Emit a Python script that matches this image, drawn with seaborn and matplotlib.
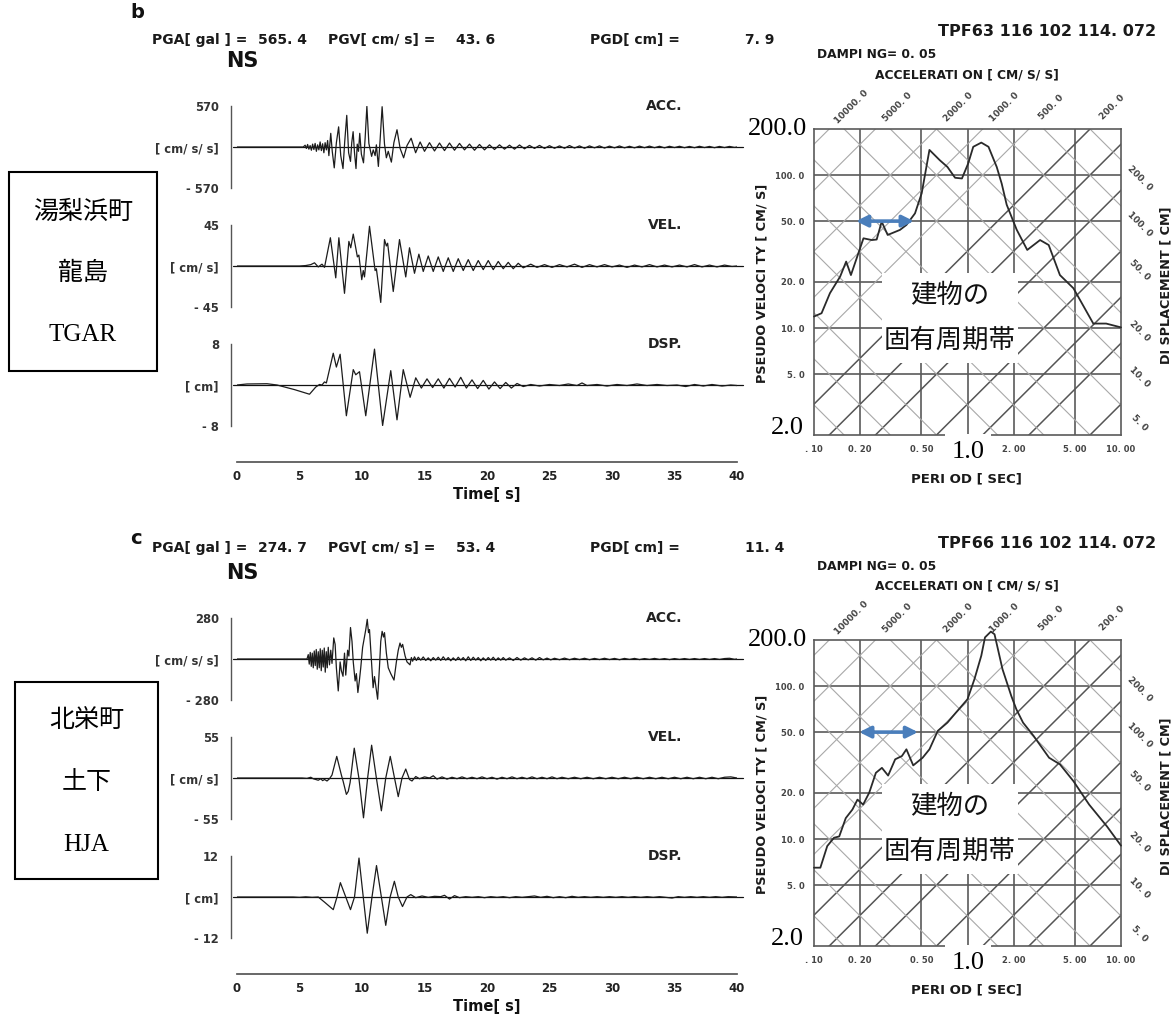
import numpy as np
import pandas as pd
import matplotlib
matplotlib.use("Agg")
import matplotlib.pyplot as plt
from matplotlib.patches import Rectangle
import seaborn as sns

sns.set_theme(style="white")
plt.rcParams['font.family'] = ['DejaVu Sans', 'Noto Sans CJK JP']

# ---------------------------------------------------------------- data
# station b (湯梨浜町 龍島 TGAR): turning points (time s, value)
ACC_B = [(0, 0), (5.3, 0), (5.45, 25), (5.55, -20), (5.65, 35), (5.75, -30), (5.85, 20), (5.95, -45),
         (6.05, 40), (6.15, -35), (6.25, 50), (6.35, -60), (6.45, 30), (6.55, -40), (6.65, 70), (6.75, -50),
         (6.85, 45), (6.95, -80), (7.05, 60), (7.15, -40), (7.25, 90), (7.35, -120), (7.5, 190), (7.62, -60),
         (7.78, -290), (7.95, 60), (8.13, 280), (8.3, -120), (8.48, -300), (8.62, 80), (8.78, 440), (8.93, -80),
         (9.08, -200), (9.18, 60), (9.29, 213), (9.4, -80), (9.52, -300), (9.62, 40), (9.72, -60), (9.82, 190),
         (9.95, -100), (10.12, -220), (10.25, 120), (10.39, 565), (10.55, 50), (10.77, -130), (10.9, -40),
         (11.05, -120), (11.15, 30), (11.31, -270), (11.45, 100), (11.61, 560), (11.8, 40), (11.95, -150),
         (12.1, -60), (12.35, -210), (12.55, 60), (12.8, 240), (13.05, -20), (13.33, -150), (13.6, 20),
         (13.93, 122), (14.29, -80), (14.65, 70), (15.0, -60), (15.4, 60), (15.8, -55), (16.2, 55), (16.6, -50),
         (17.0, 55), (17.4, -45), (17.8, 50), (18.2, -40), (18.6, 40), (19.0, -45), (19.4, 35), (19.8, -40),
         (20.2, 30), (20.6, -35), (21.0, 30), (21.4, -30), (21.8, 25), (22.2, -30), (22.6, 28), (23.0, -25),
         (23.4, 22), (23.8, -20), (24.2, 22), (24.6, -20), (25.0, 18), (25.4, -18), (25.8, 15), (26.2, -18),
         (26.6, 20), (27.0, -15), (27.4, 15), (27.8, -18), (28.2, 15), (28.6, -12), (29.0, 15), (29.4, -15),
         (29.8, 12), (30.2, -12), (30.6, 14), (31.0, -12), (31.4, 10), (31.8, -12), (32.2, 12), (32.6, -10),
         (33.0, 12), (33.4, -10), (33.8, 10), (34.2, -12), (34.6, 10), (35.0, -8), (35.4, 10), (35.8, -10),
         (36.2, 8), (36.6, -10), (37.0, 10), (37.4, -8), (37.8, 8), (38.2, -10), (38.6, 8), (39.0, -8),
         (39.4, 8), (39.8, -6), (40, 0)]

VEL_B = [(0, 0), (5.0, 0), (5.5, 0.5), (5.9, 1.5), (6.2, 3.5), (6.5, -1), (6.8, 2), (7.0, -1.5), (7.47, 31),
         (7.9, -13), (8.15, 31), (8.6, -30), (8.95, 27), (9.1, 20), (9.3, 35), (9.63, 10), (9.75, 12),
         (9.98, -15), (10.1, -5), (10.2, -12), (10.6, 43.6), (11.05, -5), (11.15, -3), (11.5, -40), (11.8, 29),
         (11.95, 22), (12.05, 25), (12.5, -28), (13.0, 29), (13.5, -12), (13.8, 20), (14.2, -8), (14.55, 13),
         (14.9, -6), (15.3, 11), (15.7, -6), (16.1, 10), (16.5, -6), (16.9, 9), (17.3, -6), (17.7, 8), (18.1, -5),
         (18.5, 7), (18.9, -5), (19.3, 6), (19.7, -4), (20.1, 6), (20.5, -4), (20.9, 5), (21.3, -3), (21.7, 4),
         (22.1, -3), (22.5, 3), (22.9, -2), (23.5, 2), (24.0, -1.5), (24.6, 1.5), (25.2, -1.5), (25.8, 1.5),
         (26.4, -1), (27.0, 2), (27.6, -1.5), (28.2, 1.5), (28.8, -1), (29.4, 1.5), (30.0, -1), (30.6, 1),
         (31.2, -1.5), (31.8, 1), (32.4, -1), (33.0, 1.5), (33.6, -1), (34.2, 1), (34.8, -1), (35.4, 1),
         (36.0, -1), (36.6, 1.5), (37.2, -1), (37.8, 1), (38.4, -1), (39.0, 1), (39.6, -0.5), (40, 0)]

DSP_B = [(0, 0), (0.8, 0.2), (2.4, 0.25), (3.2, 0.0), (4.6, -0.9), (5.8, -1.8), (6.3, -0.4), (6.6, 0.1),
         (6.8, 0.0), (7.0, 0.6), (7.15, 0.4), (7.7, 6.2), (7.95, 3.5), (8.25, 6.0), (8.75, -6.0), (9.3, 3.0),
         (9.5, 2.0), (9.8, 2.6), (10.3, -6.0), (11.0, 7.0), (11.65, -7.9), (12.3, 2.8), (12.8, -6.8),
         (13.3, 3.0), (13.85, -2.4), (14.3, 1.4), (14.75, -0.6), (15.2, 1.2), (15.65, -0.5), (16.1, 1.2),
         (16.55, -0.6), (17.0, 1.3), (17.45, -0.4), (17.9, 1.5), (18.35, -0.6), (18.8, 1.0), (19.25, -0.7),
         (19.7, 0.9), (20.15, -0.8), (20.6, 0.6), (21.05, -0.7), (21.5, 0.5), (21.95, -0.6), (22.4, 0.3),
         (22.9, -0.3), (23.5, 0.1), (24.2, -0.2), (25.0, 0.1), (25.8, -0.1), (26.5, 0.2), (27.2, -0.1),
         (27.6, 0.4), (28.0, -0.1), (28.8, 0.1), (29.6, -0.2), (30.4, 0.1), (31.2, -0.1), (32.0, 0.2),
         (32.8, -0.1), (33.6, 0.1), (34.4, -0.1), (35.2, 0.0), (35.9, -0.3), (36.6, 0.1), (37.3, -0.2),
         (38.0, 0.1), (38.8, -0.2), (39.5, 0.0), (40, -0.1)]

# station c (北栄町 土下 HJA)
ACC_C = [(0, 0), (5.6, 0), (5.7, 30), (5.78, -35), (5.86, 45), (5.94, -50), (6.02, 40), (6.1, -60), (6.18, 55),
         (6.26, -45), (6.34, 65), (6.42, -70), (6.5, 50), (6.58, -60), (6.66, 70), (6.74, -80), (6.82, 60),
         (6.9, -55), (6.98, 75), (7.06, -90), (7.14, 50), (7.22, -60), (7.3, 80), (7.4, -40), (7.5, 60),
         (7.6, -30), (7.74, 144), (7.85, 100), (7.95, -60), (8.1, -218), (8.25, -20), (8.35, -80), (8.48, -118),
         (8.6, 40), (8.7, -110), (8.85, 60), (8.95, 20), (9.08, 215), (9.2, 120), (9.3, -20), (9.45, -150),
         (9.55, -100), (9.67, -229), (9.8, -140), (9.9, -60), (10.05, 80), (10.2, 150), (10.3, 200),
         (10.42, 271), (10.52, 180), (10.6, 200), (10.75, 0), (10.89, -196), (11.0, -120), (11.1, -180),
         (11.25, -274.7), (11.4, -50), (11.5, 120), (11.61, 189), (11.72, 150), (11.8, 180), (11.95, 40),
         (12.1, -60), (12.3, -100), (12.56, -144), (12.75, -20), (12.9, 60), (13.04, 109), (13.15, 80),
         (13.25, 100), (13.45, 20), (13.6, -20), (13.84, -40), (13.95, 10), (14.05, -15), (14.2, 15),
         (14.35, -10), (14.5, 12), (14.7, -8), (14.9, 14), (15.1, -10), (15.3, 8), (15.5, -12), (15.7, 10),
         (15.9, -8), (16.1, 12), (16.3, -10), (16.5, 15), (16.7, -8), (16.9, 10), (17.1, -12), (17.3, 8),
         (17.5, -10), (17.7, 12), (17.9, -8), (18.1, 10), (18.3, -12), (18.5, 15), (18.7, -10), (18.9, 12),
         (19.1, -8), (19.3, 10), (19.5, -12), (19.7, 8), (19.9, -10), (20.1, 10), (20.3, -8), (20.5, 12),
         (20.7, -10), (20.9, 8), (21.1, -8), (21.3, 10), (21.5, -8), (21.8, 8), (22.1, -10), (22.4, 10),
         (22.7, -8), (23.0, 8), (23.3, -6), (23.6, 8), (23.9, -8), (24.2, 10), (24.5, -6), (24.8, 6),
         (25.1, -6), (25.4, 5), (25.8, -5), (26.2, 6), (26.6, -5), (27.0, 5), (27.4, -4), (27.8, 5), (28.2, -5),
         (28.6, 4), (29.0, -4), (29.4, 5), (29.8, -4), (30.2, 4), (30.6, -5), (31.0, 4), (31.4, -3), (31.8, 4),
         (32.2, -4), (32.6, 3), (33.0, -3), (33.4, 4), (33.8, -3), (34.2, 3), (34.6, -4), (35.0, 3), (35.4, -3),
         (35.8, 3), (36.2, -3), (36.6, 3), (37.0, -3), (37.4, 3), (37.8, -3), (38.2, 3), (38.6, -3), (39.0, 3),
         (39.4, 5), (39.8, -2), (40, 0)]

VEL_C = [(0, 0), (5.2, 0), (5.6, -0.5), (5.9, 1), (6.1, -1), (6.3, -2), (6.5, -3), (6.7, -1), (6.85, -3.5),
         (7.0, -2), (7.2, -4), (7.4, -1), (7.6, 4), (7.98, 29), (8.35, 4), (8.5, -5), (8.75, -22), (8.9, -18),
         (9.05, -6), (9.38, 40), (9.75, 0), (10.12, -53.4), (10.45, 0), (10.77, 44), (11.15, 0), (11.55, -44),
         (11.9, 0), (12.26, 29), (12.6, 0), (12.9, -25), (13.2, 0), (13.5, 12), (13.8, -2), (14.0, -4),
         (14.3, 2), (14.6, -1), (15.0, 1.5), (15.4, 0), (15.7, 3), (16.0, -1.5), (16.4, 1.5), (16.8, -1.5),
         (17.2, 1), (17.6, -1), (18.0, 1.5), (18.4, -1), (18.8, 1), (19.2, -1), (19.6, 1.5), (20.0, -1),
         (20.4, 1), (20.8, -1.5), (21.2, 1), (21.6, -1), (22.0, 1.5), (22.4, -1), (22.8, 1), (23.2, -1),
         (23.6, 1.5), (24.0, -1), (24.4, 1), (24.8, -1), (25.2, 1.5), (25.6, -1), (26.0, 1), (26.5, -1),
         (27.0, 1), (27.5, -1), (28.0, 1), (28.5, -1), (29.0, 1), (29.5, -1), (30.0, 1), (30.5, -1), (31.0, 1),
         (31.5, -1), (32.0, 1), (32.5, -1), (33.0, 1), (33.5, -1), (34.0, 1), (34.5, -1), (35.0, 1), (35.5, -1),
         (36.0, 1), (36.5, -1), (37.0, 1), (37.5, -1), (38.0, 1), (38.5, -1), (39.0, 1), (39.5, 1.5), (40, 0)]

DSP_C = [(0, 0), (4.5, 0), (5.0, -0.1), (5.5, 0.05), (6.0, -0.1), (6.5, 0), (7.0, -1.5), (7.7, -3.7), (8.0, 0),
         (8.27, 4.2), (8.7, 0), (9.08, -3.7), (9.4, 0), (9.76, 11.4), (10.1, 0), (10.42, -10.6), (10.8, 0),
         (11.16, 9.2), (11.55, 0), (11.9, -8.3), (12.25, 0), (12.59, 4.6), (12.9, 0), (13.24, -2.8), (13.6, 0),
         (13.9, 0.7), (14.3, -0.2), (14.8, 0.3), (15.3, -0.1), (15.8, 0.2), (16.3, 0.1), (16.6, 0.5),
         (17.0, -0.6), (17.4, 0.4), (17.8, -0.2), (18.3, 0.1), (18.8, -0.1), (19.3, 0.1), (19.8, -0.2),
         (20.3, 0.1), (20.8, -0.1), (21.3, 0.1), (21.8, -0.2), (22.3, 0.1), (22.8, -0.1), (23.3, 0.1),
         (23.8, 0.3), (24.3, -0.1), (24.8, 0.2), (25.3, -0.2), (25.8, 0.1), (26.3, -0.2), (26.8, 0.2),
         (27.3, -0.1), (27.8, 0.1), (28.3, -0.1), (28.8, 0.1), (29.3, -0.1), (29.8, 0.1), (30.3, -0.1),
         (30.8, 0.1), (31.3, -0.1), (31.8, 0.1), (32.3, -0.1), (32.8, 0.1), (33.3, -0.1), (33.8, 0.1),
         (34.3, -0.1), (34.8, -0.3), (35.3, 0.1), (35.8, -0.1), (36.3, 0.1), (36.8, -0.1), (37.3, 0.1),
         (37.8, -0.1), (38.3, 0.1), (38.8, -0.1), (39.3, 0.1), (40, 0)]

# pseudo-velocity response spectra (h = 0.05)
SPEC_B_T = [0.1, 0.112, 0.127, 0.148, 0.162, 0.174, 0.21, 0.238, 0.256, 0.276, 0.302, 0.363, 0.40, 0.455,
            0.503, 0.565, 0.66, 0.74, 0.83, 0.92, 1.01, 1.09, 1.23, 1.37, 1.55, 1.67, 1.80, 2.09, 2.45, 2.97,
            3.38, 4.0, 4.9, 6.6, 8.0, 10.0]
SPEC_B_V = [11.9, 12.5, 16.9, 21.7, 27.2, 22.2, 38.6, 37.6, 37.9, 49.6, 40.6, 43.8, 47.2, 56.2, 76.0, 146,
            125, 113, 96, 95, 119, 153, 163, 153, 113, 88, 64, 44, 32.4, 37.6, 34.9, 22.2, 18.2, 10.7, 10.7,
            10.1]
SPEC_C_T = [0.1, 0.11, 0.122, 0.135, 0.146, 0.161, 0.178, 0.192, 0.209, 0.229, 0.253, 0.277, 0.304, 0.338,
            0.374, 0.40, 0.443, 0.51, 0.565, 0.64, 0.74, 0.84, 1.0, 1.11, 1.23, 1.3, 1.42, 1.5, 1.69, 1.93, 2.08,
            2.3, 2.7, 3.4, 4.0, 4.9, 6.2, 8.1, 10.0]
SPEC_C_V = [6.5, 6.5, 9.0, 10.2, 10.4, 13.7, 15.6, 18.1, 16.8, 20.1, 27.1, 29.2, 26.0, 33.2, 34.9, 38.6, 30.3,
            34.0, 38.6, 50.9, 57.7, 67, 82, 111, 158, 208, 227, 218, 129, 86, 70.6, 57.7, 47.1, 34, 30.8, 23.9,
            16.8, 12.1, 9.06]

# tripartite scale values
SA_LINES = [2, 5, 10, 20, 50, 100, 200, 500, 1000, 2000, 5000, 10000]
SA_LABELS = [10000, 5000, 2000, 1000, 500, 200]
SD_LINES = [0.05, 0.1, 0.2, 0.5, 1, 2, 5, 10, 20, 50, 100, 200]
SD_LABELS = [200, 100, 50, 20, 10, 5]
PERIOD_TICKS = [0.1, 0.2, 0.5, 2, 5, 10]
PERIOD_TICKLABELS = [". 10", "0. 20", "0. 50", "2. 00", "5. 00", "10. 00"]
VEL_TICKS = [5, 10, 20, 50, 100]
VEL_TICKLABELS = ["5. 0", "10. 0", "20. 0", "50. 0", "100. 0"]
BAND_B = (0.188, 0.447)
BAND_C = (0.197, 0.476)

PEAKS_B = ("565. 4", "43. 6", "7. 9")
PEAKS_C = ("274. 7", "53. 4", "11. 4")
SCALES_B = (570, 45, 8)
SCALES_C = (280, 55, 12)
STATION_B = ["湯梨浜町", "龍島", "TGAR"]
STATION_C = ["北栄町", "土下", "HJA"]
CODE_B = "TPF63 116 102 114. 072"
CODE_C = "TPF66 116 102 114. 072"

# ---------------------------------------------------------------- layout helpers
W, H = 1172, 1017
fig = plt.figure(figsize=(W / 100, H / 100), dpi=100)
fig.patch.set_facecolor("white")


def rect(x0, y0, x1, y1):
    return [x0 / W, 1 - y1 / H, (x1 - x0) / W, (y1 - y0) / H]


def ftext(x, y, s, **kw):
    return fig.text(x / W, 1 - y / H, s, **kw)


BOLD = dict(fontweight="bold", family=["DejaVu Sans"])
SERIF = ["Liberation Serif", "Noto Sans CJK JP"]
T0_X, T40_X = 237, 737
INK = "#1a1a1a"


def trace(y_top, y_bot, pts, amp, unit, name):
    ax = fig.add_axes(rect(T0_X, y_top, T40_X, y_bot))
    ax.patch.set_alpha(0)
    df = pd.DataFrame(pts, columns=["t", "v"])
    ax.plot([-0.35, 40.5], [0, 0], color="#111111", lw=0.9, clip_on=False)
    sns.lineplot(data=df, x="t", y="v", ax=ax, color="#1c1c1c", lw=0.9,
                 sort=False, estimator=None, legend=False)
    ax.set_xlim(0, 40)
    ax.set_ylim(-amp, amp)
    for s in ["top", "right", "bottom"]:
        ax.spines[s].set_visible(False)
    ax.spines["left"].set_position(("outward", 4))
    ax.spines["left"].set_color("#555555")
    ax.spines["left"].set_linewidth(1.0)
    ax.set_yticks([-amp, 0, amp])
    ax.set_yticklabels([f"- {amp}", unit, f"{amp}"])
    ax.tick_params(axis="y", direction="out", length=5, width=1.0, color="#555555",
                   labelsize=8.3, pad=4, labelcolor="#333333")
    for lab in ax.get_yticklabels():
        lab.set_fontweight("bold")
    ax.set_xticks([])
    ax.set_xlabel("")
    ax.set_ylabel("")
    ax.text(0.89, 1.0, name, transform=ax.transAxes, ha="right", va="center",
            fontsize=10, color="#222222", **BOLD)
    return ax


def waveform_panel(off, head_y, letter, letter_xy, peaks, scales, acc, vel, dsp):
    ftext(*letter_xy, letter, fontsize=14, color="#111111", ha="left", va="center", **BOLD)
    kw = dict(fontsize=10, color=INK, va="center", ha="left", **BOLD)
    ftext(152, head_y, "PGA[ gal ] =", **kw)
    ftext(258, head_y, peaks[0], **kw)
    ftext(328, head_y, "PGV[ cm/ s] =", **kw)
    ftext(456, head_y, peaks[1], **kw)
    ftext(590, head_y, "PGD[ cm] =", **kw)
    ftext(745, head_y, peaks[2], **kw)
    ftext(226, 61 + off, "NS", fontsize=15, color="#111111", va="center", ha="left", **BOLD)
    trace(106 + off, 188 + off, acc, scales[0], "[ cm/ s/ s]", "ACC.")
    trace(225 + off, 307 + off, vel, scales[1], "[ cm/ s]", "VEL.")
    trace(344 + off, 426 + off, dsp, scales[2], "[ cm]", "DSP.")
    # time axis
    tax = fig.add_axes(rect(T0_X, 452 + off, T40_X, 462 + off))
    tax.patch.set_alpha(0)
    for s in ["top", "right", "left"]:
        tax.spines[s].set_visible(False)
    tax.spines["bottom"].set_color("#555555")
    tax.set_xlim(0, 40)
    tax.set_ylim(0, 1)
    tax.set_yticks([])
    tax.set_xticks(np.arange(0, 41, 5))
    tax.set_xticklabels([str(v) for v in range(0, 41, 5)])
    tax.tick_params(axis="x", direction="in", length=5, width=1.0, color="#555555",
                    labelsize=8.5, pad=6, labelcolor="#222222")
    for lab in tax.get_xticklabels():
        lab.set_fontweight("bold")
    ftext(487, 495 + off, "Time[ s]", fontsize=10.5, color="#111111", ha="center", va="center", **BOLD)


def spectrum(off, T, V, band, code):
    x0, x1, y0, y1 = 814, 1121, 129 + off, 435 + off
    ax = fig.add_axes(rect(x0, y0, x1, y1))
    ax.set_xscale("log")
    ax.set_yscale("log")
    ax.set_xlim(0.1, 10)
    ax.set_ylim(2, 200)
    ax.patch.set_facecolor("white")
    for t in [0.2, 0.5, 1, 2, 5]:
        ax.axvline(t, color="#5a5a5a", lw=1.2, zorder=1)
    for v in [5, 10, 20, 50, 100]:
        ax.axhline(v, color="#5a5a5a", lw=1.2, zorder=1)
    tt = np.array([0.05, 20.0])
    for sa in SA_LINES:
        dark = sa <= 200
        ax.plot(tt, sa * tt / (2 * np.pi), color="#555555" if dark else "#a8a8a8",
                lw=1.1 if dark else 0.8, zorder=1)
    for sd in SD_LINES:
        ax.plot(tt, 2 * np.pi * sd / tt, color="#a8a8a8", lw=0.8, zorder=1)
    sns.lineplot(x=T, y=V, ax=ax, color="#2a2a2a", lw=1.3, sort=False, estimator=None,
                 legend=False, zorder=3)
    ax.get_lines()[-1].set_clip_on(False)
    for s in ax.spines.values():
        s.set_color("#5a5a5a")
        s.set_linewidth(1.2)
    ax.set_xticks(PERIOD_TICKS)
    ax.set_xticklabels(PERIOD_TICKLABELS)
    ax.set_yticks(VEL_TICKS)
    ax.set_yticklabels(VEL_TICKLABELS)
    ax.minorticks_off()
    ax.tick_params(length=0, labelsize=6, pad=7, labelcolor="#444444")
    for lab in ax.get_xticklabels() + ax.get_yticklabels():
        lab.set_fontweight("bold")
    ax.set_xlabel("")
    ax.set_ylabel("")
    # acceleration and displacement scale labels
    d = 0.144
    for sa in SA_LABELS:
        t_top = 2 * np.pi * 200 / sa
        ax.text(t_top * 10 ** d, 200 * 10 ** d, f"{sa}. 0", rotation=45, ha="center", va="center",
                fontsize=6.5, color="#444444", fontweight="bold", clip_on=False)
    d = 0.12
    for sd in SD_LABELS:
        v_right = 2 * np.pi * sd / 10
        ax.text(10 * 10 ** d, v_right / 10 ** d, f"{sd}. 0", rotation=-45, ha="center", va="center",
                fontsize=6.5, color="#444444", fontweight="bold", clip_on=False)
    # natural-period band of buildings
    ax.annotate("", xy=(band[1], 50), xytext=(band[0], 50),
                arrowprops=dict(arrowstyle="<|-|>", color="#4a7ebb", lw=2.6,
                                mutation_scale=17, shrinkA=0, shrinkB=0), zorder=4)
    # headings
    ftext(1156, 32 + off, code, fontsize=11.5, color=INK, ha="right", va="center", **BOLD)
    ftext(817, 55 + off, "DAMPI NG= 0. 05", fontsize=8.8, color=INK, ha="left", va="center", **BOLD)
    ftext(967, 75 + off, "ACCELERATI ON [ CM/ S/ S]", fontsize=8.8, color=INK,
          ha="center", va="center", **BOLD)
    ftext(762, 283 + off, "PSEUDO VELOCI TY [ CM/ S]", fontsize=9.3, color=INK, rotation=90,
          ha="center", va="center", **BOLD)
    ftext(1166, 285 + off, "DI SPLACEMENT [ CM]", fontsize=9.2, color=INK, rotation=90,
          ha="center", va="center", **BOLD)
    ftext(966, 479 + off, "PERI OD [ SEC]", fontsize=9.5, color=INK, ha="center", va="center", **BOLD)
    # large serif scale marks
    wb = dict(facecolor="white", edgecolor="none", pad=1.5)
    ftext(807, 129 + off, "200.0", fontsize=19, family=SERIF, ha="right", va="center",
          color="black", bbox=wb, zorder=6)
    ftext(804, 428 + off, "2.0", fontsize=19, family=SERIF, ha="right", va="center",
          color="black", bbox=wb, zorder=6)
    ftext(968, 452 + off, "1.0", fontsize=19, family=SERIF, ha="center", va="center",
          color="black", bbox=dict(facecolor="white", edgecolor="none", pad=5), zorder=6)
    # caption box
    fig.add_artist(Rectangle((882 / W, 1 - (363 + off) / H), 136 / W, 90 / H,
                             transform=fig.transFigure, facecolor="white", edgecolor="none", zorder=5))
    ftext(950, 296 + off, "建物の", fontsize=19, family=SERIF, ha="center", va="center",
          color="#111111", zorder=6)
    ftext(950, 341 + off, "固有周期帯", fontsize=19, family=SERIF, ha="center", va="center",
          color="#111111", zorder=6)


def station_box(x0, y0, x1, y1, lines, ys):
    fig.add_artist(Rectangle((x0 / W, 1 - y1 / H), (x1 - x0) / W, (y1 - y0) / H,
                             transform=fig.transFigure, facecolor="white", edgecolor="black",
                             lw=1.5, zorder=5))
    for s, y in zip(lines, ys):
        ftext((x0 + x1) / 2, y, s, fontsize=18, family=SERIF, ha="center", va="center",
              color="black", zorder=6)


# ---------------------------------------------------------------- draw
waveform_panel(0, 40, "b", (130, 12), PEAKS_B, SCALES_B, ACC_B, VEL_B, DSP_B)
waveform_panel(512, 548, "c", (130, 539), PEAKS_C, SCALES_C, ACC_C, VEL_C, DSP_C)
spectrum(0, SPEC_B_T, SPEC_B_V, BAND_B, CODE_B)
spectrum(511, SPEC_C_T, SPEC_C_V, BAND_C, CODE_C)
station_box(9, 172, 157, 371, STATION_B, [212, 273, 335])
station_box(15, 682, 158, 879, STATION_C, [721, 783, 845])

fig.savefig("out.png", dpi=100, facecolor="white")
